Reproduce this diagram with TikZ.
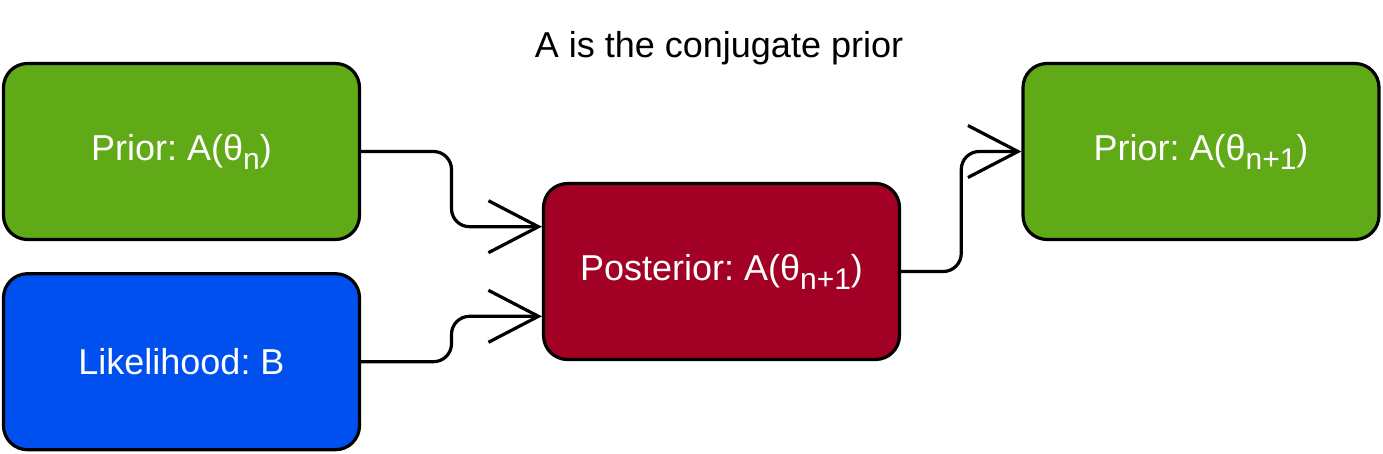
\documentclass[tikz,border=0pt]{standalone}
\usepackage{fontspec}
\setmainfont{Liberation Sans}
\frenchspacing
\usetikzlibrary{calc,positioning,arrows.meta}
\definecolor{PriorGreen}{HTML}{60A917}
\definecolor{LikeBlue}{HTML}{0050EF}
\definecolor{PostRed}{HTML}{A20025}
\newcommand{\lowsub}[1]{\raisebox{-9pt}{\fontsize{30}{30}\selectfont #1}}
\tikzset{
  stagebox/.style={
    rounded corners=24pt,
    draw=black,
    line width=3.2pt,
    minimum width=356pt,
    minimum height=176pt,
    inner sep=0pt,
    text=white,
    font=\fontsize{36}{43}\selectfont
  },
  flow/.style={
    line width=3.2pt,
    rounded corners=18pt,
    -{Straight Barb[length=50pt,width=52pt]}
  }
}

\begin{document}
\begin{tikzpicture}[x=1pt,y=-1pt]
  \useasboundingbox (0,0) rectangle (1383,453);
  \node[font=\fontsize{36}{43}\selectfont] (title) at (719,48) {A is the conjugate prior};

  \node[stagebox, fill=PriorGreen] (prior) at (181.5,151.5) {Prior: A(θ\lowsub{n})};
  \node[stagebox, fill=LikeBlue, below=31pt of prior] (likelihood) {Likelihood: B};
  \node[stagebox, fill=PostRed] (posterior) at (721.5,271.5) {Posterior: A(θ\lowsub{n+1})};
  \node[stagebox, fill=PriorGreen] (nextprior) at (1201,151.5) {Prior: A(θ\lowsub{n+1})};

  % entry points on the posterior, bends half way
  \coordinate (inA) at ($(posterior.north west)!0.25!(posterior.south west)$);
  \coordinate (inB) at ($(posterior.north west)!0.75!(posterior.south west)$);
  \coordinate (bendA) at ($(prior.east)!0.5!(inA)$);
  \coordinate (bendB) at ($(likelihood.east)!0.5!(inB)$);
  \coordinate (bendC) at ($(posterior.east)!0.5!(nextprior.west)$);

  \draw[flow] (prior.east) -| (bendA |- inA) -- (inA);
  \draw[flow] (likelihood.east) -| (bendB |- inB) -- (inB);
  \draw[flow] (posterior.east) -| (bendC |- nextprior.west) -- (nextprior.west);
\end{tikzpicture}
\end{document}
